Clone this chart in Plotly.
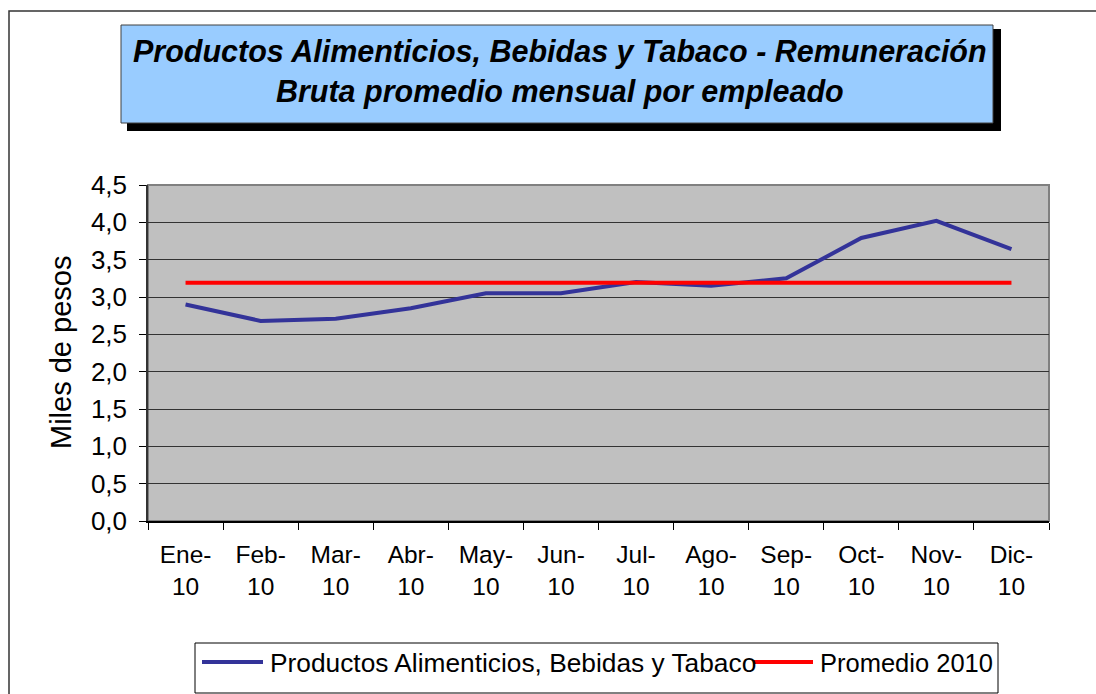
import plotly.graph_objects as go

# ---- data ----
MESES = ["Ene-10", "Feb-10", "Mar-10", "Abr-10", "May-10", "Jun-10",
         "Jul-10", "Ago-10", "Sep-10", "Oct-10", "Nov-10", "Dic-10"]
REMUNERACION = [2.90, 2.68, 2.71, 2.85, 3.05, 3.05, 3.20, 3.15, 3.25, 3.79, 4.02, 3.64]
PROMEDIO_2010 = [3.19, 3.19, 3.19, 3.19, 3.19, 3.19, 3.19, 3.19, 3.19, 3.19, 3.19, 3.19]
Y_TICKS = [0.0, 0.5, 1.0, 1.5, 2.0, 2.5, 3.0, 3.5, 4.0, 4.5]
Y_TICK_LABELS = ["0,0", "0,5", "1,0", "1,5", "2,0", "2,5", "3,0", "3,5", "4,0", "4,5"]
NAME_1 = "Productos Alimenticios, Bebidas y Tabaco"
NAME_2 = "Promedio 2010"
TITLE_LINES = ["Productos Alimenticios, Bebidas y Tabaco - Remuneración",
               "Bruta promedio mensual por empleado"]
Y_TITLE = "Miles de pesos"

FONT = "Liberation Sans, Arial, sans-serif"
BLUE = "#333399"
RED = "#FF0000"

W, H = 1096, 694
L, R, T, B = 148, 1049, 185, 521   # plot-area pixel box


def px(x):
    return (x - L) / (R - L)


def py(y):
    return (B - y) / (B - T)


fig = go.Figure()
fig.add_trace(go.Scatter(x=MESES, y=REMUNERACION, mode="lines", name=NAME_1,
                         line=dict(color=BLUE, width=4), showlegend=False))
fig.add_trace(go.Scatter(x=MESES, y=PROMEDIO_2010, mode="lines", name=NAME_2,
                         line=dict(color=RED, width=4), showlegend=False))

shapes = [
    # outer chart border
    dict(type="rect", xref="paper", yref="paper", x0=px(9), x1=px(1110),
         y0=py(11), y1=py(710), line=dict(color="#333333", width=1.5),
         fillcolor="rgba(0,0,0,0)", layer="below"),
    # plot area border (gray)
    dict(type="rect", xref="paper", yref="paper", x0=0, x1=1, y0=0, y1=1,
         line=dict(color="#808080", width=2), layer="below"),
    # title shadow
    dict(type="rect", xref="paper", yref="paper", x0=px(127), x1=px(1001),
         y0=py(131), y1=py(29), line=dict(width=0), fillcolor="#000000"),
    # title box
    dict(type="rect", xref="paper", yref="paper", x0=px(121), x1=px(993),
         y0=py(123), y1=py(25), line=dict(color="#404040", width=1),
         fillcolor="#99CCFF"),
    # legend box
    dict(type="rect", xref="paper", yref="paper", x0=px(195), x1=px(998),
         y0=py(693), y1=py(643), line=dict(color="#000000", width=1),
         fillcolor="#FFFFFF"),
    # legend line samples
    dict(type="line", xref="paper", yref="paper", x0=px(202), x1=px(263),
         y0=py(662), y1=py(662), line=dict(color=BLUE, width=4)),
    dict(type="line", xref="paper", yref="paper", x0=px(753), x1=px(813),
         y0=py(662), y1=py(662), line=dict(color=RED, width=4)),
]

annotations = [
    dict(text="<b><i>" + "<br>".join(TITLE_LINES) + "</i></b>",
         xref="paper", yref="paper", x=px(560), y=py(71),
         xanchor="center", yanchor="middle", showarrow=False,
         font=dict(family=FONT, size=30.5, color="#000000")),
    dict(text=Y_TITLE, xref="paper", yref="paper", x=px(61), y=0.5,
         xanchor="center", yanchor="middle", textangle=-90, showarrow=False,
         font=dict(family=FONT, size=29, color="#000000")),
    dict(text=NAME_1, xref="paper", yref="paper", x=px(268), y=py(663),
         xanchor="left", yanchor="middle", showarrow=False,
         font=dict(family=FONT, size=26.3, color="#000000")),
    dict(text=NAME_2, xref="paper", yref="paper", x=px(818), y=py(663),
         xanchor="left", yanchor="middle", showarrow=False,
         font=dict(family=FONT, size=25.5, color="#000000")),
]

fig.update_layout(
    width=W, height=H, autosize=False,
    margin=dict(l=L, r=W - R, t=T, b=H - B, pad=0),
    paper_bgcolor="#FFFFFF", plot_bgcolor="#C0C0C0",
    font=dict(family=FONT, size=24, color="#000000"),
    showlegend=False,
    shapes=shapes, annotations=annotations,
)

fig.update_xaxes(
    type="category", categoryorder="array", categoryarray=MESES,
    tickmode="array", tickvals=MESES,
    ticktext=[m.replace("-", "-<br>") for m in MESES],
    tickson="boundaries", ticks="outside", ticklen=7, tickwidth=1,
    tickcolor="#000000", showgrid=False, showline=True,
    linecolor="#000000", linewidth=1.5,
    tickfont=dict(family=FONT, size=24.5), ticklabelstandoff=11,
    range=[-0.5, 11.5], automargin=False,
)
fig.update_yaxes(
    range=[0, 4.5], tickmode="array", tickvals=Y_TICKS, ticktext=Y_TICK_LABELS,
    ticks="outside", ticklen=7, tickwidth=1, tickcolor="#000000",
    showgrid=True, gridcolor="#333333", gridwidth=1, zeroline=False,
    showline=True, linecolor="#333333", linewidth=1.5,
    tickfont=dict(family=FONT, size=26), ticklabelstandoff=7,
    automargin=False,
)

fig.write_html("out.html", config={"displayModeBar": False},
               post_script="document.body.style.margin='0';")
